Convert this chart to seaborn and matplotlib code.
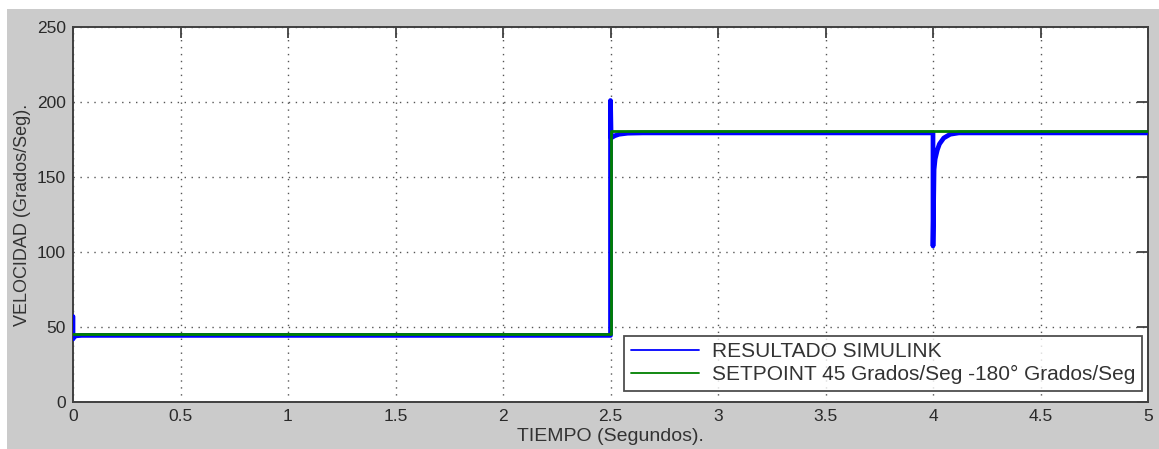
import matplotlib
matplotlib.use("Agg")
import matplotlib.pyplot as plt
import seaborn as sns
import pandas as pd
from matplotlib.patches import Rectangle
from matplotlib.lines import Line2D

# ---- data ----
t_sim = [0.0, 0.0, 0.004, 0.01, 0.02, 0.04, 2.5, 2.5, 2.503, 2.508, 2.52, 2.54, 2.58, 2.65,
         4.0, 4.0, 4.005, 4.01, 4.02, 4.03, 4.05, 4.08, 4.12, 5.0]
v_sim = [57, 42, 43, 44, 44.2, 44.4, 44.4, 201, 176, 176.5, 177.5, 178.5, 179.2, 179.4,
         179.4, 104, 155, 162, 168, 172, 176, 178.5, 179.4, 179.4]
t_set = [0.0, 2.5, 2.5, 5.0]
v_set = [45.5, 45.5, 180.5, 180.5]
x_ticks = [0, 0.5, 1, 1.5, 2, 2.5, 3, 3.5, 4, 4.5, 5]
x_tick_labels = ["0", "0.5", "1", "1.5", "2", "2.5", "3", "3.5", "4", "4.5", "5"]
y_ticks = [0, 50, 100, 150, 200, 250]
label_sim = "RESULTADO SIMULINK"
label_set = "SETPOINT 45 Grados/Seg -180° Grados/Seg"

sns.set_style("white")
plt.rcParams["font.family"] = ["Liberation Sans", "DejaVu Sans"]

W, H = 1159, 449
fig = plt.figure(figsize=(W / 100, H / 100), dpi=100)
fig.patch.set_facecolor("white")
fig.patches.append(Rectangle((7 / W, 0), 1 - 7 / W, (H - 9) / H, transform=fig.transFigure,
                             facecolor="#cbcbcb", edgecolor="none", zorder=-10))

ax = fig.add_axes([73 / W, 1 - 402 / H, (1148 - 73) / W, (402 - 27) / H])
ax.set_facecolor("white")

df_sim = pd.DataFrame({"t": t_sim, "v": v_sim})
df_set = pd.DataFrame({"t": t_set, "v": v_set})
sns.lineplot(data=df_sim, x="t", y="v", ax=ax, color="#0000ff", lw=3.4, sort=False,
             estimator=None, zorder=3)
sns.lineplot(data=df_set, x="t", y="v", ax=ax, color="#008000", lw=2.0, sort=False,
             estimator=None, zorder=4)

ax.set_xlim(0, 5)
ax.set_ylim(0, 250)
ax.set_xticks(x_ticks)
ax.set_xticklabels(x_tick_labels)
ax.set_yticks(y_ticks)
ax.grid(True, linestyle=(0, (1, 4)), color="#555555", lw=1.0)
ax.tick_params(direction="in", length=8, width=1.3, colors="#404040", labelsize=12.5,
               top=True, right=True, pad=5)
for lab in ax.get_xticklabels() + ax.get_yticklabels():
    lab.set_color("#2a2a2a")
for s in ax.spines.values():
    s.set_color("#404040")
    s.set_linewidth(1.4)

ax.set_xlabel("TIEMPO (Segundos).", fontsize=14, color="#333333", labelpad=3)
ax.set_ylabel("VELOCIDAD (Grados/Seg).", fontsize=13, color="#333333", labelpad=4)

handles = [Line2D([], [], color="#0000ff", lw=1.3), Line2D([], [], color="#008000", lw=1.3)]
leg = ax.legend(handles, [label_sim, label_set], loc="lower right",
                bbox_to_anchor=(0.994, 0.03), fontsize=15, frameon=True, fancybox=False,
                edgecolor="#222222", handlelength=3.3, borderpad=0.3, labelspacing=0.2,
                handletextpad=0.6, borderaxespad=0)
leg.get_frame().set_linewidth(1.3)
for tx in leg.get_texts():
    tx.set_color("#333333")

fig.savefig("out.png", dpi=100, facecolor=fig.get_facecolor())
